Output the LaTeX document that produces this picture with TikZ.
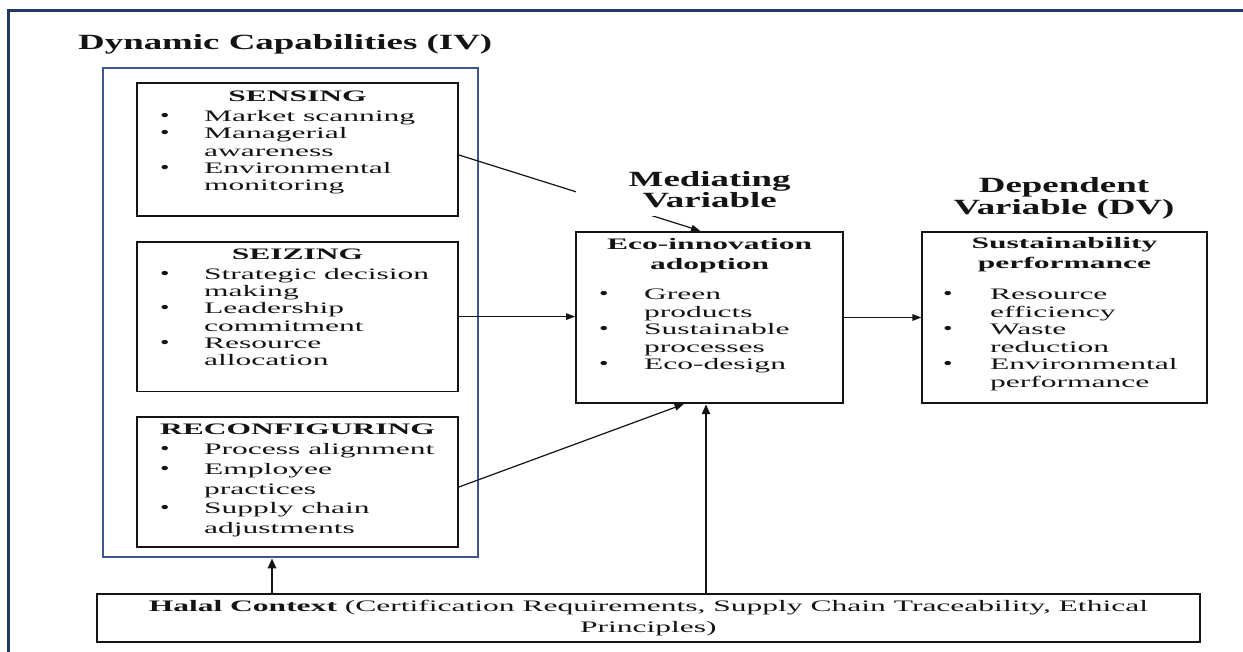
\documentclass[tikz,border=0pt]{standalone}
\usepackage{fontspec}
\setmainfont{Liberation Serif}[FakeStretch=1.97]
\newfontfamily\ttlfont{Liberation Serif}[FakeStretch=1.7]
\newfontfamily\bulfont{Liberation Serif}[FakeStretch=1.5]
\usetikzlibrary{arrows.meta,calc}
\definecolor{frameblue}{RGB}{31,56,100}
\definecolor{boxblue}{RGB}{60,88,140}
\definecolor{ink}{RGB}{20,20,20}
\newcommand\bul[1]{\makebox[#1][l]{\bulfont\fontsize{18}{18}\selectfont\textbullet}}
\begin{document}
\begin{tikzpicture}[x=1pt,y=-1pt,
  box/.style={draw=ink, line width=1.8pt, inner sep=0pt},
  bluebox/.style={draw=boxblue, line width=2pt, inner sep=0pt},
  hd/.style={font=\bfseries\fontsize{16}{19.5}\selectfont, anchor=base, inner sep=0pt, text=ink},
  lst/.style={anchor=base west, inner sep=0pt, text=ink},
  ttl/.style={font=\ttlfont\bfseries\fontsize{21.7}{21}\selectfont, inner sep=0pt, text=ink},
  conn/.style={draw=ink, line width=1.2pt, -{Triangle[length=9pt,width=6.5pt]}},
  thickconn/.style={draw=ink, line width=2.4pt, -{Triangle[length=10pt,width=8pt]}},
]
\useasboundingbox (0,0) rectangle (1243,652);
\fill[white] (0,0) rectangle (1243,652);
% outer frame
\draw[frameblue, line width=2.6pt] (8.7,652) -- (8.7,10.5) -- (1243,10.5);

% title
\node[ttl, anchor=base west] (title) at (78,50) {Dynamic Capabilities (IV)};

% boxes
\node[bluebox, minimum width=375.1pt, minimum height=489pt] (dcbox) at (290.85,312.8) {};
\node[box, minimum width=321pt, minimum height=133pt] (sense) at (297.5,149.5) {};
\node[box, minimum width=321pt, minimum height=149.8pt] (seize) at (297.5,316.6) {};
\node[box, minimum width=321pt, minimum height=130.6pt] (reconf) at (297.5,482) {};
\node[box, minimum width=267.3pt, minimum height=171.6pt] (eco) at (709.65,317.5) {};
\node[box, minimum width=284.4pt, minimum height=171pt] (sust) at (1064.5,317.8) {};
\node[box, minimum width=1103.3pt, minimum height=48.2pt] (halal) at (648.35,618.1) {};

% SENSING
\node[hd] (senseh) at (297.5,101.7) {SENSING};
\node[lst, font=\fontsize{16}{17.2}\selectfont] (sensel) at (160,121.7) {\begin{tabular}[t]{@{}l@{}l@{}}
\bul{44pt} & Market scanning\\
\bul{44pt} & Managerial\\
 & awareness\\
\bul{44pt} & Environmental\\
 & monitoring
\end{tabular}};

% SEIZING
\node[hd] (seizeh) at (297.5,259.5) {SEIZING};
\node[lst, font=\fontsize{16}{17.2}\selectfont] (seizel) at (160,279.5) {\begin{tabular}[t]{@{}l@{}l@{}}
\bul{44pt} & Strategic decision\\
 & making\\
\bul{44pt} & Leadership\\
 & commitment\\
\bul{44pt} & Resource\\
 & allocation
\end{tabular}};

% RECONFIGURING
\node[hd] (reconfh) at (297.5,435) {RECONFIGURING};
\node[lst, font=\fontsize{16}{19.8}\selectfont] (reconfl) at (160,454.5) {\begin{tabular}[t]{@{}l@{}l@{}}
\bul{44pt} & Process alignment\\
\bul{44pt} & Employee\\
 & practices\\
\bul{44pt} & Supply chain\\
 & adjustments
\end{tabular}};

% Eco-innovation
\node[hd] (ecoh) at (709.65,250) {\begin{tabular}[t]{@{}c@{}}Eco-innovation\\adoption\end{tabular}};
\node[lst, font=\fontsize{16}{17.5}\selectfont] (ecol) at (599,300) {\begin{tabular}[t]{@{}l@{}l@{}}
\bul{45pt} & Green\\
 & products\\
\bul{45pt} & Sustainable\\
 & processes\\
\bul{45pt} & Eco-design
\end{tabular}};

% Sustainability
\node[hd] (susth) at (1064.5,249) {\begin{tabular}[t]{@{}c@{}}Sustainability\\performance\end{tabular}};
\node[lst, font=\fontsize{16}{17.5}\selectfont] (sustl) at (943,300) {\begin{tabular}[t]{@{}l@{}l@{}}
\bul{47pt} & Resource\\
 & efficiency\\
\bul{47pt} & Waste\\
 & reduction\\
\bul{47pt} & Environmental\\
 & performance
\end{tabular}};

% Halal text
\node[anchor=base, inner sep=0pt, text=ink, font=\fontsize{16}{20.5}\selectfont] (halalt) at (648.35,611.5) {\begin{tabular}[t]{@{}c@{}}\textbf{Halal Context} (Certification Requirements, Supply Chain Traceability, Ethical\\Principles)\end{tabular}};

% connectors
\coordinate (hx) at (272,0);
\coordinate (ex) at (706,0);
\draw[conn] ([yshift=-5.5pt]sense.east) -- ([xshift=-9.5pt]eco.north);
\draw[conn] (seize.east) -- (seize.east -| eco.west);
\draw[conn] ([yshift=-5pt]reconf.east) -- ([xshift=-26pt]eco.south);
\draw[conn] (eco.east) -- (eco.east -| sust.west);
\draw[thickconn] (halal.north -| hx) -- (dcbox.south -| hx);
\draw[thickconn] (halal.north -| ex) -- (eco.south -| ex);

% labels (white background hides part of the sensing connector)
\node[ttl, fill=white, minimum width=268pt, minimum height=47.6pt, font=\ttlfont\bfseries\fontsize{21.7}{20.5}\selectfont] (medl) at (709.65,192.7) {\begin{tabular}{@{}c@{}}Mediating\\Variable\end{tabular}};
\node[ttl, anchor=base, font=\ttlfont\bfseries\fontsize{21.7}{22.5}\selectfont] (depl) at (1064,192.5) {\begin{tabular}[t]{@{}c@{}}Dependent\\Variable (DV)\end{tabular}};
\end{tikzpicture}
\end{document}
